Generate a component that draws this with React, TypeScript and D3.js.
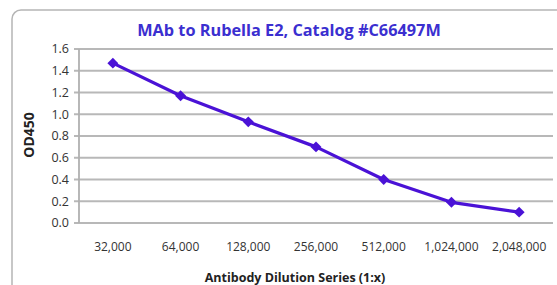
import React, { useRef, useEffect } from "react";
import * as d3 from "d3";

const dilutions = ["32,000", "64,000", "128,000", "256,000", "512,000", "1,024,000", "2,048,000"];
const od450 = [1.47, 1.17, 0.93, 0.7, 0.4, 0.19, 0.1];
const yTicks = [0, 0.2, 0.4, 0.6, 0.8, 1.0, 1.2, 1.4, 1.6];

const App = () => {
  const svgRef = useRef<SVGSVGElement>(null);

  useEffect(() => {
    const width = 557;
    const height = 285;
    const margin = { top: 49, right: 4, bottom: 62, left: 79 };
    const font = "Open Sans, sans-serif";

    const svg = d3.select(svgRef.current);
    svg.selectAll("*").remove();

    // chart frame (runs off the right/bottom edge like the source)
    svg
      .append("rect")
      .attr("x", 12)
      .attr("y", 10)
      .attr("width", 560)
      .attr("height", 300)
      .attr("rx", 9)
      .attr("fill", "white")
      .attr("stroke", "#b5b5b5")
      .attr("stroke-width", 1.5);

    const x = d3
      .scaleBand()
      .domain(dilutions)
      .range([margin.left, width - margin.right])
      .padding(0);

    const y = d3
      .scaleLinear()
      .domain([0, 1.6])
      .range([height - margin.bottom, margin.top]);

    // gridlines
    svg
      .append("g")
      .selectAll("line")
      .data(yTicks)
      .join("line")
      .attr("x1", margin.left - 5)
      .attr("x2", width - margin.right)
      .attr("y1", (d) => y(d))
      .attr("y2", (d) => y(d))
      .attr("stroke", "#b8b8b8")
      .attr("stroke-width", 1.8);

    svg
      .append("line")
      .attr("x1", margin.left)
      .attr("x2", margin.left)
      .attr("y1", y(1.6))
      .attr("y2", y(0))
      .attr("stroke", "#b0b0b0")
      .attr("stroke-width", 1.8);

    svg
      .append("g")
      .selectAll("text")
      .data(yTicks)
      .join("text")
      .attr("x", margin.left - 10)
      .attr("y", (d) => y(d))
      .attr("dy", "0.35em")
      .attr("text-anchor", "end")
      .attr("font-family", font)
      .attr("font-size", "12.5px")
      .attr("fill", "#333")
      .text((d) => d3.format(".1f")(d));

    svg
      .append("g")
      .selectAll("text")
      .data(dilutions)
      .join("text")
      .attr("x", (d) => (x(d) ?? 0) + x.bandwidth() / 2)
      .attr("y", 247)
      .attr("dy", "0.35em")
      .attr("text-anchor", "middle")
      .attr("font-family", font)
      .attr("font-size", "12px")
      .attr("fill", "#333")
      .text((d) => d);

    const color = "#4a12d6";
    const pts = dilutions.map((d, i) => [(x(d) ?? 0) + x.bandwidth() / 2, y(od450[i])] as [number, number]);

    svg
      .append("path")
      .attr("d", d3.line()(pts))
      .attr("fill", "none")
      .attr("stroke", color)
      .attr("stroke-width", 3.2)
      .attr("stroke-linejoin", "round");

    svg
      .append("g")
      .selectAll("path")
      .data(pts)
      .join("path")
      .attr("transform", (d) => `translate(${d[0]},${d[1]}) rotate(45)`)
      .attr("d", d3.symbol(d3.symbolSquare, 60)())
      .attr("fill", color);

    svg
      .append("text")
      .attr("x", 289)
      .attr("y", 36)
      .attr("text-anchor", "middle")
      .attr("font-family", font)
      .attr("font-size", "16.3px")
      .attr("font-weight", "bold")
      .attr("fill", "#3b2fd0")
      .text("MAb to Rubella E2, Catalog #C66497M");

    svg
      .append("text")
      .attr("text-anchor", "middle")
      .attr("transform", `translate(34, ${(y(0) + y(1.6)) / 2 - 1}) rotate(-90)`)
      .attr("font-family", font)
      .attr("font-size", "14px")
      .attr("font-weight", "bold")
      .attr("fill", "#222")
      .text("OD450");

    svg
      .append("text")
      .attr("x", 295)
      .attr("y", 282)
      .attr("text-anchor", "middle")
      .attr("font-family", font)
      .attr("font-size", "12.5px")
      .attr("font-weight", "bold")
      .attr("fill", "#222")
      .text("Antibody Dilution Series (1:x)");
  }, []);

  return (
    <svg
      ref={svgRef}
      width={557}
      height={285}
      style={{ position: "absolute", left: 0, top: 0, background: "white" }}
    />
  );
};

export default App;
